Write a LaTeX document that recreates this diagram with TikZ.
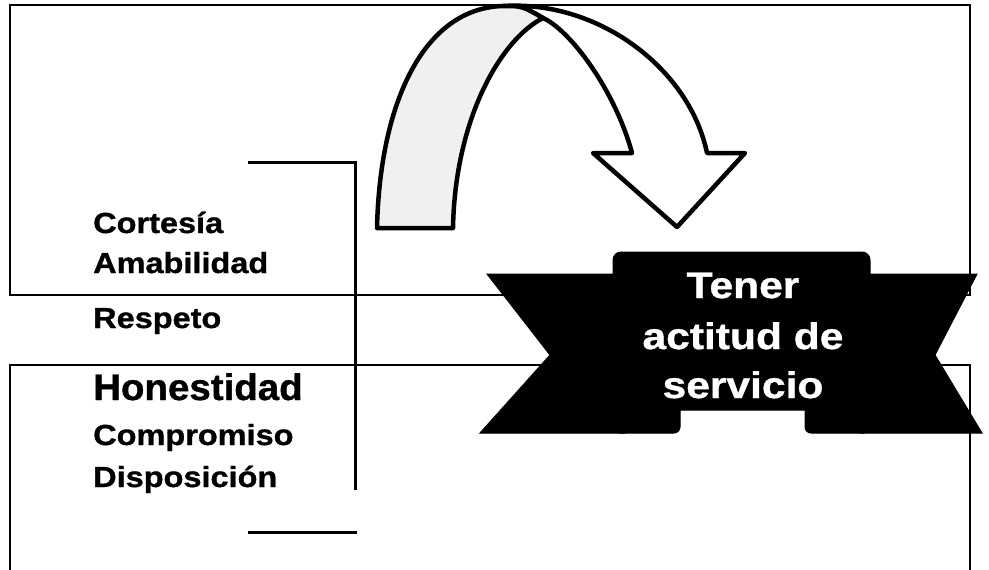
\documentclass[tikz,border=0pt]{standalone}
\usepackage{fontspec}
\newfontfamily\lblfont{Liberation Sans Bold}[FakeStretch=1.12,FakeBold=1]
\newfontfamily\honfont{Liberation Sans Bold}[FakeStretch=1.04,FakeBold=1]
\newfontfamily\banfont{Liberation Sans Bold}[FakeStretch=1.15,FakeBold=1]
\begin{document}
\begin{tikzpicture}[x=1pt,y=-1pt,
  frame/.style={line width=2.2pt},
  bracketline/.style={line width=3pt},
  lbl/.style={anchor=base west,inner sep=0pt,font=\lblfont\fontsize{29}{34}\selectfont},
  biglbl/.style={anchor=base west,inner sep=0pt,font=\honfont\fontsize{37}{42}\selectfont},
  bantxt/.style={anchor=base,inner sep=0pt,text=white,font=\banfont\fontsize{37}{42}\selectfont},
  arrowline/.style={line width=4.5pt,line join=round},
  ribbon/.style={fill=black,draw=black,line width=1pt}]
\useasboundingbox (0,0) rectangle (989,570);
\fill[white] (0,0) rectangle (989,570);
% frames
\draw[frame] (10,570) -- (10,365) -- (970,365) -- (970,570);
\draw[frame] (10,5) rectangle (970,295);
% bracket
\coordinate (bA) at (248,162);
\coordinate (bB) at (355,162);
\coordinate (bC) at (355,490);
\coordinate (bD) at (248,532);
\coordinate (bE) at (357,532);
\draw[bracketline] (bA) -- (bB) -- (bC);
\draw[bracketline] (bD) -- (bE);
% labels
\node[lbl] (cort) at (93,233) {Cortesía};
\node[lbl] (amab) at (93,273) {Amabilidad};
\node[lbl] (resp) at (93,328) {Respeto};
\node[biglbl] (hone) at (93,400) {Honestidad};
\node[lbl] (comp) at (93,445) {Compromiso};
\node[lbl] (disp) at (93,487) {Disposición};
% curved arrow
\coordinate (oL) at (377,228);
\coordinate (oT) at (503,6);
\coordinate (iP) at (543,18);
\coordinate (iL) at (453,228);
\coordinate (oR) at (707,153);
\coordinate (bR) at (745,153);
\coordinate (tip) at (677,227);
\coordinate (bL) at (593,153);
\coordinate (iR) at (632,153);
\draw[arrowline,fill=white] (oT) .. controls (600,0) and (690,70) .. (oR) -- (bR) -- (tip) -- (bL) -- (iR)
   .. controls (615,90) and (570,30) .. (iP) .. controls (522,6) .. (oT) -- cycle;
\draw[arrowline,fill=black!6] (oL) .. controls (380,100) and (425,8) .. (oT) .. controls (522,6) .. (iP)
   .. controls (500,40) and (455,120) .. (iL) -- cycle;
% ribbon
\fill[ribbon] (487,274) -- (625,274) -- (625,433) -- (480,433) -- (550,355) -- cycle;
\fill[ribbon] (977,274) -- (860,274) -- (860,433) -- (982,433) -- (935,355) -- cycle;
\fill[ribbon,rounded corners=8pt] (613,252) rectangle (870,410);
\fill[ribbon,rounded corners=6pt] (613,395) rectangle (680,433);
\fill[ribbon,rounded corners=6pt] (805,395) rectangle (870,433);
\node[bantxt] (t1) at (743,298) {Tener};
\node[bantxt] (t2) at (743,349) {actitud de};
\node[bantxt] (t3) at (743,398) {servicio};
\end{tikzpicture}
\end{document}
